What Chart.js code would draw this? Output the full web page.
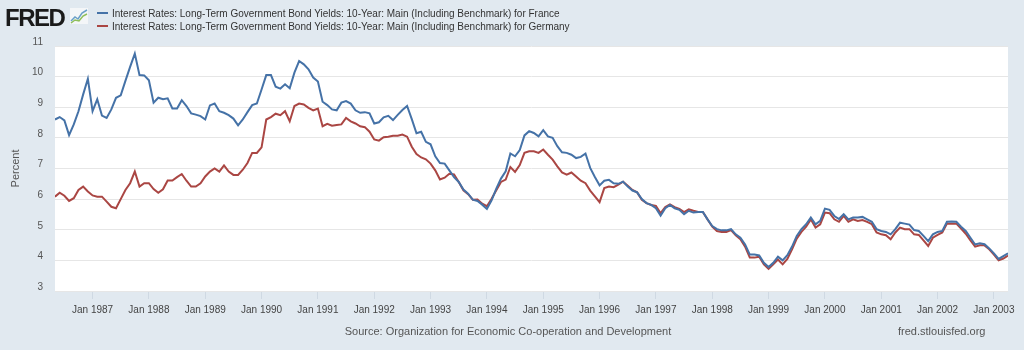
<!DOCTYPE html>
<html>
<head>
<meta charset="utf-8">
<script src="https://cdn.jsdelivr.net/npm/chart.js@4"></script>
<style>
  body { margin: 0; background: #e1e9f0; font-family: 'Liberation Sans', Arial, sans-serif; }
  #wrap { position: relative; width: 1024px; height: 350px; overflow: hidden; }
  #c { position: absolute; left: 0; top: 0; }
  #logo { position: absolute; left: 5px; top: 4px; font: 900 24px 'Liberation Sans', Arial, sans-serif; letter-spacing: -1.5px; color: #1a1a1a; }
  #icon { position: absolute; left: 70px; top: 8px; }
  .leg { position: absolute; left: 97px; font-size: 10px; color: #333; white-space: nowrap; }
  .leg span { display: inline-block; width: 11px; height: 2px; vertical-align: middle; margin-right: 4px; position: relative; top: -1px; }
  #src { position: absolute; top: 325px; left: 0; width: 1016px; text-align: center; font-size: 11px; color: #555; }
  #url { position: absolute; top: 325px; left: 898px; font-size: 11px; color: #555; }
</style>
</head>
<body>
<div id="wrap">
  <canvas id="c" width="1024" height="350"></canvas>
  <div id="logo">FRED</div>
  <svg id="icon" width="18" height="16" viewBox="0 0 18 16">
    <rect x="0" y="0" width="18" height="16" fill="#f4f6f8"/>
    <polyline points="1,13 5,9 8,11 12,5 17,2" fill="none" stroke="#6aa0c8" stroke-width="1.5"/>
    <polyline points="1,15 5,12 9,13 13,8 17,6" fill="none" stroke="#8fbf5a" stroke-width="1.5"/>
  </svg>
  <div class="leg" style="top:8px"><span style="background:#4572a7"></span>Interest Rates: Long-Term Government Bond Yields: 10-Year: Main (Including Benchmark) for France</div>
  <div class="leg" style="top:21px"><span style="background:#aa4643"></span>Interest Rates: Long-Term Government Bond Yields: 10-Year: Main (Including Benchmark) for Germany</div>
  <div id="src">Source: Organization for Economic Co-operation and Development</div>
  <div id="url">fred.stlouisfed.org</div>
</div>
<script>
// first observation: May 1986 (months counted from Jan 1986)
const startMonth = 4;
const startYear = 1986;

// tick labels on the x axis
const tickYears = [1987, 1988, 1989, 1990, 1991, 1992, 1993, 1994, 1995, 1996, 1997, 1998, 1999, 2000, 2001, 2002, 2003];
const yTicks = [3, 4, 5, 6, 7, 8, 9, 10, 11];

// monthly yields, France, May 1986 - Apr 2003
const france = [
  8.60, 8.68, 8.57, 8.09, 8.44, 8.87, 9.42, 9.93,
  8.87, 9.26, 8.73, 8.65, 8.93, 9.31, 9.39, 9.86, 10.32, 10.75, 10.05, 10.04,
  9.88, 9.15, 9.31, 9.26, 9.29, 8.96, 8.96, 9.23, 9.04, 8.80, 8.76, 8.71,
  8.60, 9.06, 9.12, 8.87, 8.82, 8.74, 8.63, 8.41, 8.60, 8.84, 9.07, 9.12,
  9.58, 10.05, 10.05, 9.67, 9.61, 9.75, 9.62, 10.13, 10.51, 10.40, 10.24, 9.97,
  9.84, 9.18, 9.07, 8.93, 8.90, 9.15, 9.20, 9.12, 8.90, 8.82, 8.84, 8.80,
  8.47, 8.51, 8.67, 8.72, 8.58, 8.75, 8.91, 9.04, 8.61, 8.15, 8.20, 7.87,
  7.79, 7.40, 7.18, 7.16, 6.94, 6.72, 6.56, 6.31, 6.18, 5.98, 5.94, 5.82,
  5.68, 5.96, 6.34, 6.67, 6.91, 7.49, 7.40, 7.60, 8.08, 8.22, 8.16, 8.05,
  8.25, 8.05, 8.00, 7.73, 7.53, 7.51, 7.45, 7.34, 7.38, 7.49, 7.02, 6.72,
  6.45, 6.60, 6.63, 6.52, 6.50, 6.57, 6.41, 6.28, 6.22, 6.00, 5.87, 5.81,
  5.70, 5.46, 5.70, 5.81, 5.70, 5.65, 5.51, 5.62, 5.56, 5.58, 5.58, 5.34,
  5.12, 5.02, 4.98, 4.98, 5.02, 4.85, 4.74, 4.52, 4.19, 4.19, 4.16, 3.92,
  3.78, 3.92, 4.12, 4.00, 4.17, 4.45, 4.80, 5.02, 5.18, 5.40, 5.18, 5.29,
  5.69, 5.65, 5.45, 5.35, 5.51, 5.34, 5.40, 5.40, 5.42, 5.34, 5.26, 5.02,
  4.96, 4.93, 4.85, 5.02, 5.23, 5.20, 5.17, 4.99, 4.96, 4.80, 4.63, 4.85,
  4.93, 4.96, 5.26, 5.27, 5.26, 5.10, 4.96, 4.74, 4.52, 4.56, 4.53, 4.39,
  4.23, 4.05, 4.14, 4.23
];

// monthly yields, Germany, same months
const germany = [
  6.08, 6.21, 6.11, 5.94, 6.03, 6.30, 6.41, 6.25,
  6.12, 6.08, 6.08, 5.92, 5.75, 5.70, 6.00, 6.30, 6.52, 6.90, 6.41, 6.52,
  6.52, 6.33, 6.21, 6.32, 6.61, 6.61, 6.72, 6.82, 6.60, 6.41, 6.41, 6.52,
  6.74, 6.90, 7.00, 6.90, 7.10, 6.90, 6.79, 6.79, 6.96, 7.18, 7.51, 7.51,
  7.69, 8.60, 8.68, 8.79, 8.74, 8.87, 8.54, 9.04, 9.12, 9.09, 8.98, 8.90,
  8.96, 8.38, 8.46, 8.40, 8.42, 8.44, 8.65, 8.54, 8.47, 8.38, 8.35, 8.20,
  7.95, 7.91, 8.02, 8.04, 8.07, 8.07, 8.11, 8.04, 7.71, 7.47, 7.36, 7.30,
  7.16, 6.94, 6.64, 6.70, 6.83, 6.81, 6.56, 6.29, 6.16, 5.98, 5.99, 5.85,
  5.77, 6.01, 6.29, 6.56, 6.64, 7.05, 6.89, 7.11, 7.51, 7.56, 7.56, 7.51,
  7.62, 7.45, 7.29, 7.07, 6.87, 6.80, 6.87, 6.74, 6.60, 6.52, 6.28, 6.09,
  5.90, 6.36, 6.41, 6.39, 6.47, 6.57, 6.44, 6.30, 6.22, 5.98, 5.87, 5.81,
  5.78, 5.54, 5.74, 5.83, 5.74, 5.68, 5.58, 5.67, 5.62, 5.58, 5.58, 5.34,
  5.10, 4.96, 4.93, 4.93, 4.99, 4.82, 4.69, 4.45, 4.09, 4.09, 4.12, 3.87,
  3.72, 3.87, 4.03, 3.87, 4.05, 4.36, 4.71, 4.93, 5.10, 5.34, 5.07, 5.18,
  5.56, 5.54, 5.34, 5.26, 5.45, 5.26, 5.34, 5.29, 5.32, 5.26, 5.18, 4.91,
  4.85, 4.82, 4.69, 4.91, 5.07, 5.02, 5.02, 4.85, 4.83, 4.65, 4.47, 4.74,
  4.83, 4.91, 5.20, 5.20, 5.20, 5.04, 4.87, 4.65, 4.45, 4.49, 4.49, 4.36,
  4.19, 4.00, 4.06, 4.16
];

// turn a list of monthly values into {x, y} points
function toPoints(values) {
  return values.map((v, i) => ({ x: startMonth + i, y: v }));
}

// white plot background
const plotBg = {
  id: 'plotBg',
  beforeDraw(chart) {
    const a = chart.chartArea;
    const ctx = chart.ctx;
    ctx.save();
    ctx.fillStyle = '#ffffff';
    ctx.fillRect(a.left, a.top, a.right - a.left, a.bottom - a.top);
    ctx.restore();
  }
};

const ctx = document.getElementById('c').getContext('2d');
new Chart(ctx, {
  type: 'line',
  data: {
    datasets: [
      {
        label: 'France',
        data: toPoints(france),
        borderColor: '#4572a7',
        borderWidth: 2,
        pointRadius: 0,
        tension: 0
      },
      {
        label: 'Germany',
        data: toPoints(germany),
        borderColor: '#aa4643',
        borderWidth: 2,
        pointRadius: 0,
        tension: 0
      }
    ]
  },
  options: {
    responsive: false,
    animation: false,
    devicePixelRatio: 1,
    layout: { padding: { top: 46, right: 16, bottom: 0, left: 0 } },
    plugins: {
      legend: { display: false },
      tooltip: { enabled: false }
    },
    scales: {
      x: {
        type: 'linear',
        min: startMonth,
        max: startMonth + france.length - 1,
        afterBuildTicks(scale) {
          scale.ticks = tickYears.map(y => ({ value: (y - startYear) * 12 }));
        },
        afterFit(scale) { scale.height = 59; },
        grid: { drawOnChartArea: false, drawTicks: true, tickLength: 8, color: '#cfd9e3' },
        border: { display: false },
        ticks: {
          autoSkip: false,
          maxRotation: 0,
          padding: 5,
          color: '#444',
          font: { family: "'Liberation Sans', Arial", size: 10 },
          callback: v => 'Jan ' + (startYear + v / 12)
        }
      },
      y: {
        min: 3,
        max: 11,
        afterBuildTicks(scale) {
          scale.ticks = yTicks.map(v => ({ value: v }));
        },
        afterFit(scale) { scale.width = 55; },
        grid: { color: '#e6e6e6', drawTicks: false },
        border: { display: false },
        ticks: {
          padding: 12,
          labelOffset: -4,
          color: '#555',
          font: { family: "'Liberation Sans', Arial", size: 10 }
        },
        title: {
          display: true,
          text: 'Percent',
          color: '#555',
          padding: { top: 9, bottom: 0 },
          font: { family: "'Liberation Sans', Arial", size: 11 }
        }
      }
    }
  },
  plugins: [plotBg]
});
</script>
</body>
</html>
